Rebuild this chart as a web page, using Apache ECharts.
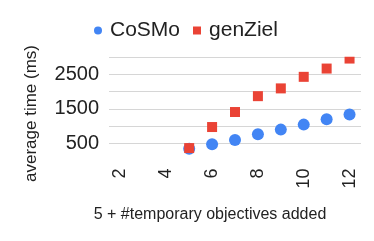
<!DOCTYPE html>
<html>
<head>
<meta charset="utf-8">
<script src="https://cdn.jsdelivr.net/npm/echarts@6/dist/echarts.min.js"></script>
<style>
html,body{margin:0;padding:0;background:#fff;}
#c{width:374px;height:241px;}
</style>
</head>
<body>
<div id="c"></div>
<script>
const xValues = [5, 6, 7, 8, 9, 10, 11, 12];
const cosmoTimes = [340, 470, 595, 760, 895, 1040, 1195, 1330];
const genZielTimes = [360, 970, 1405, 1865, 2090, 2425, 2665, 2955];
const xTickLabels = [2, 4, 6, 8, 10, 12];
const yTickLabels = [500, 1500, 2500];

const font = "'Liberation Sans', Arial, sans-serif";
const chart = echarts.init(document.getElementById('c'), null, {renderer: 'canvas'});
chart.setOption({
  animation: false,
  backgroundColor: '#fff',
  textStyle: {fontFamily: font, color: '#222'},
  legend: {
    left: 89, top: 15,
    itemWidth: 14, itemHeight: 8, itemGap: 13,
    textStyle: {fontSize: 21, color: '#222', fontFamily: font},
    data: [{name: 'CoSMo', icon: 'circle'}, {name: 'genZiel', icon: 'path://M0,0h1v1h-1z'}]
  },
  graphic: [
    {type: 'rect', z: 10, silent: true,
     shape: {x: 300, y: 42, width: 74, height: 14.8},
     style: {fill: '#fff'}},
    {type: 'text', x: 210, y: 215,
     style: {text: '5 + #temporary objectives added', fontSize: 16, fontFamily: font, fill: '#222',
             align: 'center', verticalAlign: 'middle'}},
    {type: 'text', x: 31, y: 113.5, rotation: Math.PI / 2,
     style: {text: 'average time (ms)', fontSize: 17, fontFamily: font, fill: '#222',
             align: 'center', verticalAlign: 'middle'}}
  ],
  grid: {left: 109, top: 57, width: 252, height: 103.5, containLabel: false},
  xAxis: {
    type: 'value', min: 1.5, max: 12.5,
    axisLine: {show: false}, axisTick: {show: false}, splitLine: {show: false},
    axisLabel: {customValues: xTickLabels, rotate: 90, fontSize: 18, color: '#222', margin: 8, fontFamily: font}
  },
  yAxis: {
    type: 'value', min: 0, max: 3000, interval: 500,
    axisLine: {show: false}, axisTick: {show: false},
    splitLine: {show: true, showMinLine: false, lineStyle: {color: '#d6d6d6', width: 1}},
    axisLabel: {customValues: yTickLabels, fontSize: 20, color: '#222', margin: 10, fontFamily: font,
                formatter: v => String(v)}
  },
  series: [
    {name: 'CoSMo', type: 'scatter', symbol: 'circle', symbolSize: 12, clip: true,
     itemStyle: {color: '#4285F4', opacity: 1},
     data: xValues.map((x, i) => [x, cosmoTimes[i]])},
    {name: 'genZiel', type: 'scatter', symbol: 'rect', symbolSize: 10, clip: true,
     itemStyle: {color: '#EA4335', opacity: 1},
     data: xValues.map((x, i) => [x, genZielTimes[i]])}
  ]
});
</script>
</body>
</html>
